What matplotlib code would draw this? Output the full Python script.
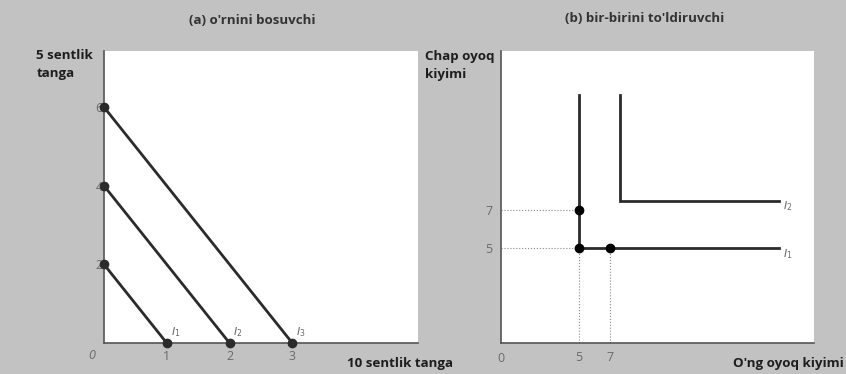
import matplotlib.pyplot as plt

# (a) substitutes: coin bundles on each indifference line
subs_x = [[0, 1], [0, 2], [0, 3]]
subs_y = [[2, 0], [4, 0], [6, 0]]
subs_labels = ['$I_1$', '$I_2$', '$I_3$']

# (b) complements: L-shaped indifference curves
comp_x = [[5, 5, 17.8], [7.6, 7.6, 17.8]]
comp_y = [[13.1, 5, 5], [13.1, 7.5, 7.5]]
comp_labels = ['$I_1$', '$I_2$']
comp_pts_x = [5, 5, 7]
comp_pts_y = [7, 5, 5]

bg = '#c2c2c2'
ink = '#2b2b2b'
tick_col = '#6a6a6a'
lab_col = '#1e1e1e'
plt.rcParams['font.family'] = ['Open Sans', 'DejaVu Sans']

fig = plt.figure(figsize=(8.46, 3.74), dpi=100)
fig.patch.set_facecolor(bg)

ax1 = fig.add_axes([0.1229, 0.0829, 0.371, 0.781])
ax2 = fig.add_axes([0.592, 0.0829, 0.370, 0.781])

for ax in (ax1, ax2):
    ax.set_facecolor('white')
    for s in ('top', 'right'):
        ax.spines[s].set_visible(False)
    for s in ('left', 'bottom'):
        ax.spines[s].set_color('#555555')
        ax.spines[s].set_linewidth(1.2)
    ax.tick_params(length=0, colors=tick_col, labelsize=9)

# panel (a)
ax1.set_xlim(0, 5)
ax1.set_ylim(0, 7.43)
for xs, ys, lab in zip(subs_x, subs_y, subs_labels):
    ax1.plot(xs, ys, color=ink, lw=2, marker='o', ms=6, clip_on=False, zorder=3)
    ax1.text(xs[1] + 0.06, 0.2, lab, color=tick_col, fontsize=8)
ax1.set_xticks([1, 2, 3])
ax1.set_yticks([2, 4, 6])
ax1.tick_params(axis='x', pad=5)
ax1.tick_params(axis='y', pad=1)
ax1.text(-0.2, -0.15, '0', color=tick_col, fontsize=9, style='italic', ha='center', va='top')
fig.text(0.298, 0.945, "(a) o'rnini bosuvchi", fontsize=9.6, fontweight='bold', color='#333333',
         ha='center', va='center')
fig.text(0.043, 0.868, '5 sentlik\ntanga', fontsize=9.6, fontweight='bold', ha='left', va='top',
         linespacing=1.45, color=lab_col)
fig.text(0.41, 0.027, '10 sentlik tanga', fontsize=9.6, fontweight='bold', ha='left', va='center',
         color=lab_col)

# panel (b)
ax2.set_xlim(0, 20)
ax2.set_ylim(0, 15.4)
for px, py in zip([5, 7], [5, 5]):
    ax2.plot([px, px], [0, py], color='#888888', lw=0.8, ls=':')
for py in [7, 5]:
    ax2.plot([0, 5], [py, py], color='#888888', lw=0.8, ls=':')
for xs, ys, lab in zip(comp_x, comp_y, comp_labels):
    ax2.plot(xs, ys, color=ink, lw=2, solid_joinstyle='miter')
    ax2.text(xs[-1] + 0.2, ys[-1] - 0.3, lab, color=tick_col, fontsize=8, va='center')
ax2.plot(comp_pts_x, comp_pts_y, 'o', color='black', ms=6, zorder=4)
ax2.set_xticks([5, 7])
ax2.set_yticks([5, 7])
ax2.tick_params(axis='x', pad=6)
ax2.tick_params(axis='y', pad=6)
ax2.text(0, -0.45, '0', color=tick_col, fontsize=9, ha='center', va='top')
fig.text(0.762, 0.95, "(b) bir-birini to'ldiruvchi", fontsize=9.6, fontweight='bold', color='#333333',
         ha='center', va='center')
fig.text(0.502, 0.865, 'Chap oyoq\nkiyimi', fontsize=9.6, fontweight='bold', ha='left', va='top',
         linespacing=1.45, color=lab_col)
fig.text(0.866, 0.027, "O'ng oyoq kiyimi", fontsize=9.6, fontweight='bold', ha='left', va='center',
         color=lab_col)

fig.savefig('out.png', dpi=100, facecolor=bg)
